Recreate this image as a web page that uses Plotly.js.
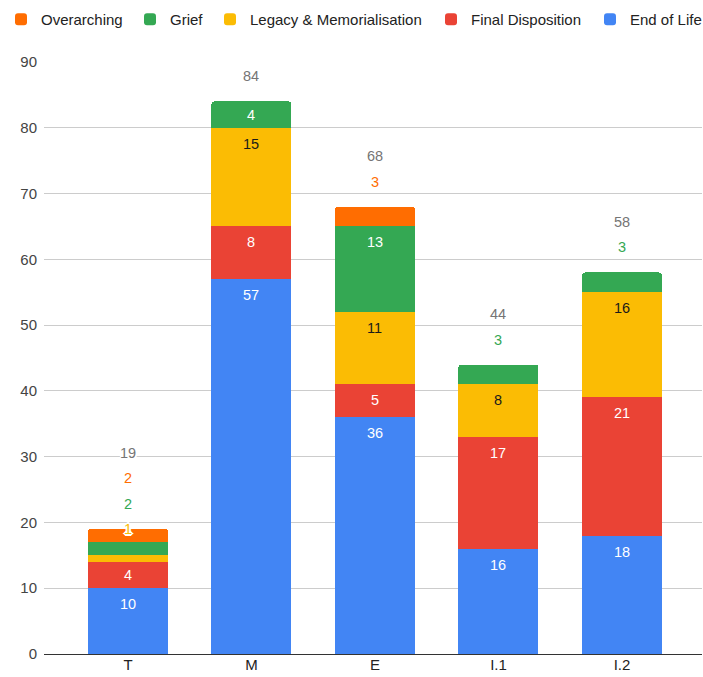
<!DOCTYPE html>
<html>
<head>
<meta charset="utf-8">
<script src="https://cdn.plot.ly/plotly-3.0.1.min.js"></script>
<style>
  html, body { margin: 0; padding: 0; background: #ffffff; }
  #chart { width: 703px; height: 677px; }
</style>
</head>
<body>
<div id="chart"></div>
<script>
// Categories along the x axis
const categories = ['T', 'M', 'E', 'I.1', 'I.2'];

// Stacked series, bottom to top
const endOfLife        = [10, 57, 36, 16, 18];
const finalDisposition = [4, 8, 5, 17, 21];
const legacyMemorial   = [1, 15, 11, 8, 16];
const grief            = [2, 4, 13, 3, 3];
const overarching      = [2, 0, 3, 0, 0];

const seriesNames = ['End of Life', 'Final Disposition', 'Legacy & Memorialisation', 'Grief', 'Overarching'];
const seriesValues = [endOfLife, finalDisposition, legacyMemorial, grief, overarching];
const seriesColors = ['#4285F4', '#EA4335', '#FBBC04', '#34A853', '#FF6D01'];
const insideTextColors = ['#ffffff', '#ffffff', '#1a1a1a', '#ffffff', '#ffffff'];

const FONT = 'Arial, "Liberation Sans", sans-serif';

// Chart geometry
const W = 703, H = 677;
const margin = { l: 44, r: 1, t: 62, b: 23, pad: 0 };
const yMax = 90;
const pxPerUnit = (H - margin.t - margin.b) / yMax;
const minInsidePx = 25;          // segments shorter than this get their label above the bar
const outsideStep = 25.5;        // vertical spacing of labels stacked above a bar
const firstLift = [0, 25, 25, 25, 25]; // lift of the first label above each bar

// One legend block per series, laid out left to right along the top row
const legendIds = ['legend5', 'legend4', 'legend3', 'legend2', 'legend'];
const legendLeft = [590, 431, 210, 130, 1];

const traces = seriesNames.map((name, s) => ({
  type: 'bar',
  name: name,
  x: categories,
  y: seriesValues[s],
  legend: legendIds[s],
  marker: { color: seriesColors[s], line: { width: 0 } },
  textposition: 'none',
  hoverinfo: 'none'
}));

const halo = '2px 0 #fff, -2px 0 #fff, 0 2px #fff, 0 -2px #fff, 1px 1px #fff, -1px -1px #fff, 1px -1px #fff, -1px 1px #fff';

const annotations = [];
categories.forEach((cat, i) => {
  let cum = 0;
  const outside = [];
  seriesValues.forEach((vals, s) => {
    const v = vals[i];
    cum += v;
    if (v <= 0) return;
    const segPx = v * pxPerUnit;
    if (segPx >= minInsidePx) {
      annotations.push({
        x: cat, y: cum, xref: 'x', yref: 'y',
        text: String(v), showarrow: false,
        yanchor: 'middle', yshift: -Math.min(16, segPx / 2),
        font: { family: FONT, size: 14.5, color: insideTextColors[s] }
      });
    } else {
      outside.push({ text: String(v), color: seriesColors[s] });
    }
  });
  const total = cum;
  outside.push({ text: String(total), color: '#757575' });
  outside.forEach((lab, k) => {
    annotations.push({
      x: cat, y: total, xref: 'x', yref: 'y',
      text: lab.text, showarrow: false,
      yanchor: 'middle', yshift: firstLift[i] + k * outsideStep,
      font: { family: FONT, size: 14.5, color: lab.color, shadow: halo }
    });
  });
});

const layout = {
  width: W, height: H,
  margin: margin,
  paper_bgcolor: '#ffffff',
  plot_bgcolor: '#ffffff',
  font: { family: FONT, size: 15, color: '#222222' },
  barmode: 'stack',
  bargap: 0.352,
  barcornerradius: 3,
  showlegend: true,
  xaxis: {
    type: 'category',
    range: [-0.68, 4.648],
    showgrid: false,
    zeroline: false,
    showline: false,
    ticks: '',
    tickfont: { family: FONT, size: 15, color: '#222222' },
    fixedrange: true
  },
  yaxis: {
    range: [0, yMax],
    dtick: 10,
    tick0: 0,
    showgrid: true,
    gridcolor: '#cccccc',
    gridwidth: 1,
    zeroline: true,
    zerolinecolor: '#333333',
    zerolinewidth: 1,
    showline: false,
    ticks: '',
    ticklabelstandoff: 6,
    tickfont: { family: FONT, size: 15, color: '#444444' },
    fixedrange: true
  },
  annotations: annotations
};

legendIds.forEach((id, s) => {
  layout[id] = {
    orientation: 'h',
    x: legendLeft[s] / W, xref: 'container', xanchor: 'left',
    y: 0.9956, yref: 'container', yanchor: 'top',
    font: { family: FONT, size: 15, color: '#222222' },
    bgcolor: 'rgba(0,0,0,0)',
    itemclick: false
  };
});

Plotly.newPlot('chart', traces, layout, { staticPlot: true, displayModeBar: false });
</script>
</body>
</html>
